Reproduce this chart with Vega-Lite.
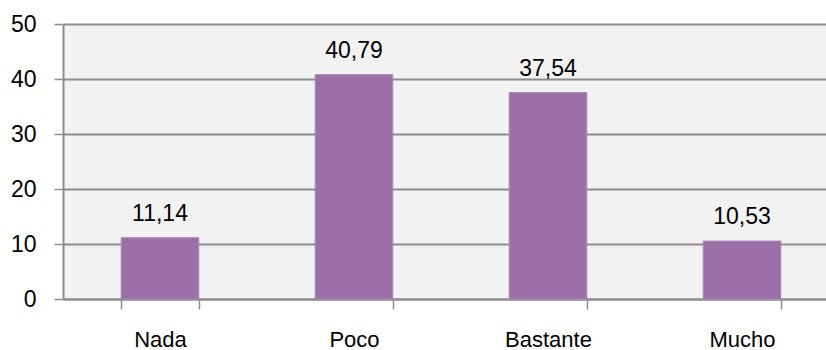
{
  "$schema": "https://vega.github.io/schema/vega-lite/v6.json",
  "autosize": {"type": "none"},
  "padding": {"left": 63, "top": 24, "right": 0, "bottom": 51},
  "width": 763,
  "height": 275,
  "data": {"values": [
    {"cat": "Nada", "value": 11.14},
    {"cat": "Poco", "value": 40.79},
    {"cat": "Bastante", "value": 37.54},
    {"cat": "Mucho", "value": 10.53}
  ]},
  "encoding": {
    "x": {
      "field": "cat", "type": "nominal", "sort": null, "title": null,
      "scale": {"range": [0, 776], "paddingInner": 0.6, "paddingOuter": 0.3},
      "axis": {
        "labelAngle": 0, "tickBand": "extent", "tickSize": 10, "tickWidth": 1.5,
        "tickColor": "#8c8c8c", "domainColor": "#8c8c8c", "domainWidth": 2,
        "labelPadding": 20, "labelFontSize": 22, "labelColor": "#000000",
        "labelFont": "Liberation Sans", "grid": false
      }
    },
    "y": {
      "field": "value", "type": "quantitative", "title": null,
      "scale": {"domain": [0, 50]},
      "axis": {
        "values": [0, 10, 20, 30, 40, 50], "tickSize": 9, "tickWidth": 1.5,
        "tickColor": "#8c8c8c", "domainColor": "#8c8c8c", "domainWidth": 2,
        "gridColor": "#8c8c8c", "gridWidth": 2, "labelPadding": 18,
        "labelFontSize": 23, "labelColor": "#000000", "labelFont": "Liberation Sans"
      }
    }
  },
  "layer": [
    {"mark": {"type": "bar", "color": "#9b70a8", "stroke": "#a886b4", "strokeWidth": 1}},
    {"mark": {"type": "text", "baseline": "alphabetic", "dy": -17, "fontSize": 23, "font": "Liberation Sans", "color": "#000000"},
     "encoding": {"text": {"field": "value", "type": "quantitative", "format": ".2f"}}}
  ],
  "config": {
    "view": {"fill": "#f2f2f2", "stroke": null},
    "locale": {"number": {"decimal": ",", "thousands": ".", "grouping": [3], "currency": ["", " €"]}}
  }
}
